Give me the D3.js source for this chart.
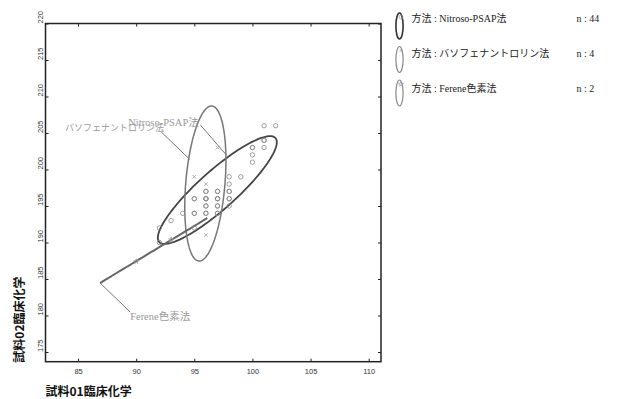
<!DOCTYPE html>
<html>
<head>
<meta charset="utf-8">
<script src="https://cdn.jsdelivr.net/npm/d3@7"></script>
<style>
  body { margin: 0; background: #fff; }
  svg { display: block; }
</style>
</head>
<body>
<svg id="chart" width="634" height="399"></svg>
<script>
// ---- data -------------------------------------------------------------
const xTicks = [85, 90, 95, 100, 105, 110];
const yTicks = [175, 180, 185, 190, 195, 200, 205, 210, 215, 220];

const methods = ["Nitroso-PSAP法", "バソフェナントロリン法", "Ferene色素法"];
const counts  = [44, 4, 2];

// Nitroso-PSAP法 (n = 44)
const nitrosoX = [102, 101, 101, 100, 101, 100, 100, 98, 99, 98,
                  96, 97, 98, 95, 96, 97, 98, 96, 97, 98,
                  94, 95, 96, 97, 93, 92, 95, 92,
                  96, 96, 97, 97, 96, 97, 97, 96, 98, 97,
                  96, 95, 100, 101, 98, 95];
const nitrosoY = [206, 206, 204, 203, 203, 202, 201, 199, 199, 198,
                  197, 197, 197, 196, 196, 196, 196, 195, 195, 195,
                  194, 194, 194, 194, 193, 192, 192, 190,
                  196, 196, 196, 196, 195, 195, 194, 194, 197, 197,
                  197, 194, 203, 204, 196, 196];

// バソフェナントロリン法 (n = 4)
const bathoX = [97, 95, 96, 96];
const bathoY = [203, 199, 198, 191];

// Ferene色素法 (n = 2)
const fereneX = [90, 93];
const fereneY = [187.4, 190.4];

// 95% ellipses: centre, major half-axis vector, minor half-axis vector (data units)
const ellCx = [96.98, 95.95, 91.51];
const ellCy = [197.19, 198.08, 188.90];
const ellUx = [5.00, 0.56, 4.61];
const ellUy = [7.12, 10.62, 4.45];
const ellVx = [1.09, 1.68, 0];
const ellVy = [-1.94, -0.22, 0];

// ---- layout -----------------------------------------------------------
const svg = d3.select("#chart");
const x = d3.scaleLinear().domain([82.2, 111.06]).range([45.5, 381]);
const y = d3.scaleLinear().domain([173.67, 220]).range([361.7, 23.5]);

const tickFont = "'Liberation Sans', Arial, sans-serif";
const serifFont = "'Liberation Serif', 'Times New Roman', 'Noto Sans CJK JP', serif";
const cjkBold = "'Noto Sans CJK JP', sans-serif";

// bottom axis
const gx = svg.append("g").attr("transform", `translate(0,${y.range()[0]})`)
  .call(d3.axisBottom(x).tickValues(xTicks).tickSizeInner(-3).tickSizeOuter(0).tickPadding(7));
// top axis (ticks only)
const gxt = svg.append("g").attr("transform", `translate(0,${y.range()[1]})`)
  .call(d3.axisTop(x).tickValues(xTicks).tickSizeInner(-3).tickSizeOuter(0).tickFormat(""));
// left axis
const gy = svg.append("g").attr("transform", `translate(${x.range()[0]},0)`)
  .call(d3.axisLeft(y).tickValues(yTicks).tickSizeInner(-3).tickSizeOuter(0));
// right axis (ticks only)
const gyr = svg.append("g").attr("transform", `translate(${x.range()[1]},0)`)
  .call(d3.axisRight(y).tickValues(yTicks).tickSizeInner(-3).tickSizeOuter(0).tickFormat(""));

[gx, gxt, gy, gyr].forEach(g => {
  g.select(".domain").remove();
  g.selectAll(".tick line").attr("stroke", "#222").attr("stroke-width", 1);
});
gx.selectAll("text").attr("font-family", tickFont).attr("font-size", 7.5).attr("fill", "#333");
gy.selectAll("text")
  .attr("font-family", tickFont).attr("font-size", 7.5).attr("fill", "#333")
  .attr("x", 0).attr("dy", 0)
  .attr("text-anchor", "start")
  .attr("transform", "translate(-2.5,-0.5) rotate(-90)");

// plot frame
svg.append("rect")
  .attr("x", x.range()[0]).attr("y", y.range()[1])
  .attr("width", x.range()[1] - x.range()[0])
  .attr("height", y.range()[0] - y.range()[1])
  .attr("fill", "none").attr("stroke", "#222").attr("stroke-width", 1.5);

// axis titles
svg.append("text")
  .attr("x", x.range()[0]).attr("y", 396)
  .attr("font-family", cjkBold).attr("font-weight", 700).attr("font-size", 12)
  .attr("fill", "#111").text("試料01臨床化学");
svg.append("text")
  .attr("transform", `translate(24,${y.range()[0] + 1}) rotate(-90)`)
  .attr("font-family", cjkBold).attr("font-weight", 700).attr("font-size", 12)
  .attr("fill", "#111").text("試料02臨床化学");

// ---- marks ------------------------------------------------------------
const plot = svg.append("g");

// ellipses
const ellStroke = ["#444", "#777", "#666"];
const ellWidth  = [1.8, 1.5, 2];
const line = d3.line().x(d => x(d[0])).y(d => y(d[1]));
ellCx.forEach((cx, i) => {
  const pts = d3.range(0, 121).map(k => {
    const t = k / 120 * 2 * Math.PI;
    return [cx + ellUx[i] * Math.cos(t) + ellVx[i] * Math.sin(t),
            ellCy[i] + ellUy[i] * Math.cos(t) + ellVy[i] * Math.sin(t)];
  });
  plot.append("path").attr("d", line(pts))
    .attr("fill", "none").attr("stroke", ellStroke[i]).attr("stroke-width", ellWidth[i]);
});

// Nitroso-PSAP points (circles)
plot.selectAll(".pn").data(d3.range(nitrosoX.length)).join("circle")
  .attr("cx", i => x(nitrosoX[i])).attr("cy", i => y(nitrosoY[i]))
  .attr("r", 2.2).attr("fill", "none").attr("stroke", "#888").attr("stroke-width", 0.8);

// バソフェナントロリン points (crosses)
const cross = d3.symbol().type(d3.symbolX).size(10);
plot.selectAll(".pb").data(d3.range(bathoX.length)).join("path")
  .attr("d", cross)
  .attr("transform", i => `translate(${x(bathoX[i])},${y(bathoY[i])})`)
  .attr("fill", "none").attr("stroke", "#999").attr("stroke-width", 0.8);

// Ferene points (stars)
const star = d3.symbol().type(d3.symbolStar).size(8);
plot.selectAll(".pf").data(d3.range(fereneX.length)).join("path")
  .attr("d", star)
  .attr("transform", i => `translate(${x(fereneX[i])},${y(fereneY[i])})`)
  .attr("fill", "none").attr("stroke", "#999").attr("stroke-width", 0.7);

// ---- ellipse labels with leader lines ----------------------------------
const notes = [
  { text: "バソフェナントロリン法", tx: 83.88, ty: 205.27, x1: 92.16, y1: 205.14, x2: 94.6, y2: 201.4, size: 9 },
  { text: "Nitroso-PSAP法", tx: 89.31, ty: 205.96, x1: 95.52, y1: 206.1, x2: 97.76, y2: 201.99, size: 10.5 },
  { text: "Ferene色素法", tx: 89.48, ty: 179.45, x1: 86.9, y1: 184.45, x2: 89.48, y2: 180.48, size: 10.5 }
];
notes.forEach(n => {
  plot.append("line")
    .attr("x1", x(n.x1)).attr("y1", y(n.y1)).attr("x2", x(n.x2)).attr("y2", y(n.y2))
    .attr("stroke", "#777").attr("stroke-width", 1);
  plot.append("text")
    .attr("x", x(n.tx)).attr("y", y(n.ty))
    .attr("font-family", serifFont).attr("font-size", n.size)
    .attr("fill", "#999").text(n.text);
});

// ---- legend -----------------------------------------------------------
const legend = svg.append("g");
const legSym = [d3.symbolCircle, d3.symbolX, d3.symbolStar];
const legStroke = ["#333", "#888", "#888"];
methods.forEach((m, i) => {
  const cy = 26 + i * 33.5;
  const ty = 21.5 + i * 35;
  legend.append("ellipse")
    .attr("cx", 399.5).attr("cy", cy).attr("rx", 3.6).attr("ry", 13)
    .attr("fill", "none").attr("stroke", legStroke[i]).attr("stroke-width", i === 0 ? 1.6 : 1.2);
  legend.append("path")
    .attr("d", d3.symbol().type(legSym[i]).size(i === 0 ? 12 : 8)())
    .attr("transform", `translate(401,${cy - 9})`)
    .attr("fill", "none").attr("stroke", "#999").attr("stroke-width", 0.7);
  legend.append("text")
    .attr("x", 411.5).attr("y", ty)
    .attr("font-family", serifFont).attr("font-size", 10)
    .attr("fill", "#222").text(`方法 : ${m}`);
  legend.append("text")
    .attr("x", 576.5).attr("y", ty)
    .attr("font-family", serifFont).attr("font-size", 10)
    .attr("fill", "#222").text(`n : ${counts[i]}`);
});
</script>
</body>
</html>
